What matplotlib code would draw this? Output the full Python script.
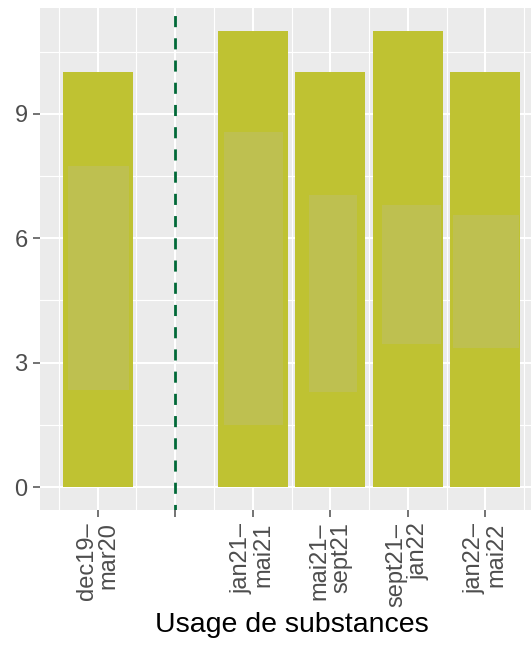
import numpy as np
import matplotlib
matplotlib.use("Agg")
import matplotlib.pyplot as plt
from matplotlib.patches import Rectangle

plt.rcParams["font.family"] = ["Liberation Sans", "DejaVu Sans"]

# data
positions = [1, 3, 4, 5, 6]
labels = ["dec19–\nmar20", "jan21–\nmai21", "mai21–\nsept21", "sept21–\njan22", "jan22–\nmai22"]
values = [10, 11, 10, 11, 10]
inner_lo = [2.35, 1.5, 2.3, 3.45, 3.35]
inner_hi = [7.75, 8.55, 7.05, 6.8, 6.55]
inner_x0 = [0.61, 2.63, 3.72, 4.67, 5.59]
inner_x1 = [1.40, 3.39, 4.34, 5.43, 6.43]
break_pos = 2
xlabel = "Usage de substances"

bar_color = "#bfc232"
inner_color = "#bec050"
grey_bg = "#ebebeb"
tick_col = "#4d4d4d"

fig = plt.figure(figsize=(5.31, 6.46), dpi=100)
# panel runs a little past the right edge, like the cropped original
ax = fig.add_axes([40/531, 1-510/646, (543-40)/531, (510-8)/646])
ax.set_facecolor(grey_bg)
for s in ax.spines.values():
    s.set_visible(False)

ax.set_xlim(0.255, 6.745)
ax.set_ylim(-0.55, 11.55)

# grid
ax.set_xticks([1, 2, 3, 4, 5, 6])
ax.set_xticks(np.arange(0.5, 7, 1), minor=True)
ax.set_yticks([0, 3, 6, 9])
ax.set_yticks([1.5, 4.5, 7.5, 10.5], minor=True)
ax.grid(which="major", color="white", linewidth=1.5)
ax.grid(which="minor", color="white", linewidth=0.8)
ax.set_axisbelow(True)

ax.bar(positions, values, width=0.9, color=bar_color, zorder=2)
for x0, x1, lo, hi in zip(inner_x0, inner_x1, inner_lo, inner_hi):
    ax.add_patch(Rectangle((x0, lo), x1 - x0, hi - lo, facecolor=inner_color,
                           edgecolor="none", zorder=3))

ax.axvline(break_pos, color="#006837", linewidth=2, linestyle=(2, (4, 4)), zorder=4)

xt = labels[:1] + [""] + labels[1:]
ax.set_xticklabels(xt, rotation=90, ha="center", va="top", multialignment="right",
                   linespacing=1.0)
ax.tick_params(axis="both", which="major", colors=tick_col, labelcolor=tick_col,
               labelsize=17, length=5, width=1.1)
ax.tick_params(axis="x", which="major", pad=4)
ax.tick_params(axis="y", which="major", pad=4)
ax.tick_params(axis="both", which="minor", length=0)
ax.set_xlabel(xlabel, fontsize=20.5, color="black", labelpad=4)

fig.savefig("out.png", dpi=100)
